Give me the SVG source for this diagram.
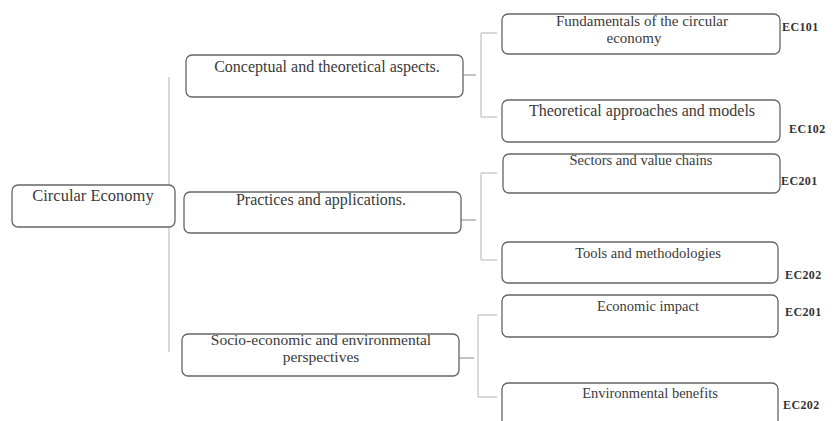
<svg xmlns="http://www.w3.org/2000/svg" width="835" height="421" viewBox="0 0 835 421">
<style>
.box{fill:#fff;stroke:#666;stroke-width:1.3}
.t{font-family:"Liberation Serif","Times New Roman",serif;fill:#3a3a3a;text-anchor:middle}
.ec{font-family:"Liberation Serif","Times New Roman",serif;fill:#333;font-weight:bold;font-size:12px;letter-spacing:0.4px}
.c{fill:none;stroke:#b5b5b5;stroke-width:1}
.s{fill:none;stroke:#888;stroke-width:1}
</style>
<rect width="835" height="421" fill="#fff"/>
<g id="connectors">
<path class="c" d="M169 77 V352"/>
<path class="s" d="M463 75 H476"/>
<path class="c" d="M481 33 V117 M481 33 H497 M481 117 H497"/>
<path class="s" d="M461 220 H476"/>
<path class="c" d="M481 173 V260 M481 173 H497 M481 260 H497"/>
<path class="s" d="M459 358 H474"/>
<path class="c" d="M478 315 V397 M478 315 H497 M478 397 H497"/>
</g>
<g id="circular-economy">
<rect class="box" x="12" y="185" width="163" height="42" rx="6"/>
<text class="t" x="93" y="201" font-size="16.5">Circular Economy</text>
</g>
<g id="conceptual">
<rect class="box" x="186" y="55" width="277" height="42" rx="6"/>
<text class="t" x="327" y="72" font-size="16">Conceptual and theoretical aspects.</text>
</g>
<g id="practices">
<rect class="box" x="184" y="192" width="277" height="41" rx="6"/>
<text class="t" x="321" y="205" font-size="16">Practices and applications.</text>
</g>
<g id="socio">
<rect class="box" x="182" y="334" width="277" height="42" rx="6"/>
<text class="t" x="321" y="345" font-size="15.5">Socio-economic and environmental</text>
<text class="t" x="321" y="362" font-size="15.5">perspectives</text>
</g>
<g id="fundamentals">
<rect class="box" x="502" y="14" width="278" height="40" rx="6"/>
<text class="t" x="642" y="26" font-size="15">Fundamentals of the circular</text>
<text class="t" x="634" y="43" font-size="15">economy</text>
</g>
<g id="theoretical">
<rect class="box" x="502" y="100" width="278" height="42" rx="6"/>
<text class="t" x="642" y="116" font-size="16">Theoretical  approaches and models</text>
</g>
<g id="sectors">
<rect class="box" x="503" y="154" width="277" height="39" rx="6"/>
<text class="t" x="641" y="165" font-size="14.5">Sectors and value chains</text>
</g>
<g id="tools">
<rect class="box" x="502" y="242" width="276" height="41" rx="6"/>
<text class="t" x="648" y="258" font-size="14.5">Tools and methodologies</text>
</g>
<g id="economic">
<rect class="box" x="502" y="295" width="276" height="42" rx="6"/>
<text class="t" x="648" y="311" font-size="14.5">Economic impact</text>
</g>
<g id="environmental">
<rect class="box" x="502" y="383" width="276" height="44" rx="6"/>
<text class="t" x="650" y="398" font-size="14.5">Environmental benefits</text>
</g>
<g id="codes">
<text class="ec" x="782" y="31">EC101</text>
<text class="ec" x="789" y="133">EC102</text>
<text class="ec" x="781" y="185">EC201</text>
<text class="ec" x="785" y="279">EC202</text>
<text class="ec" x="785" y="316">EC201</text>
<text class="ec" x="783" y="409">EC202</text>
</g>
</svg>
